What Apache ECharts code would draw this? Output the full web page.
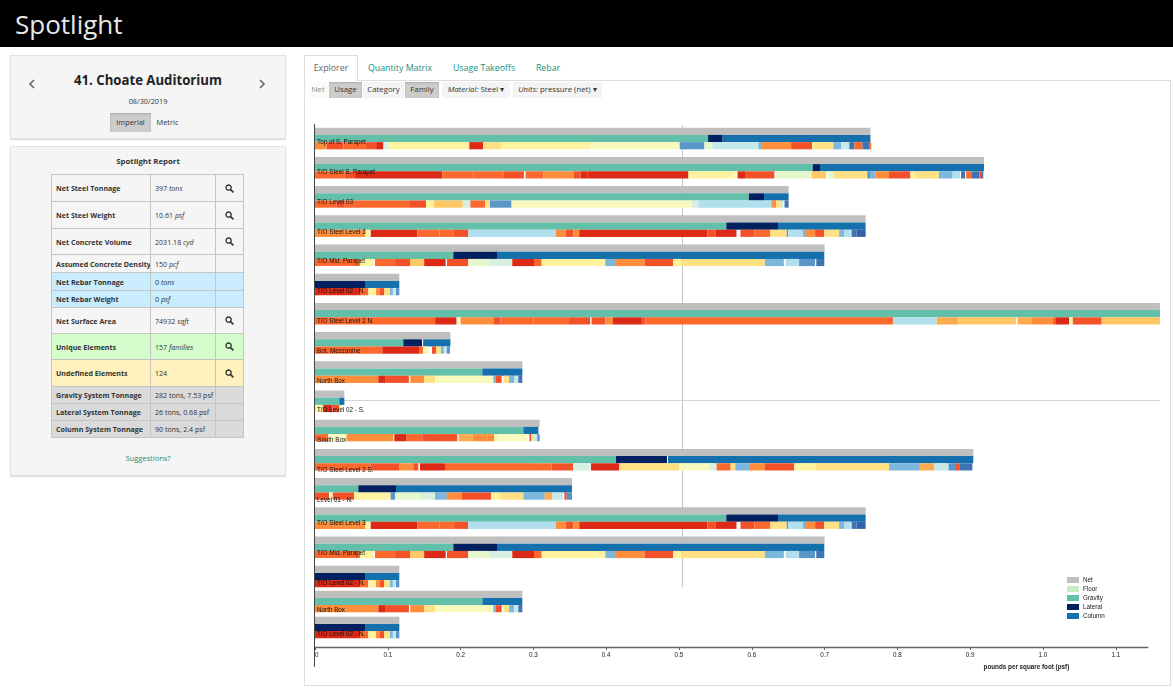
<!DOCTYPE html>
<html lang="en">
<head>
    <meta charset="UTF-8">
    <title>Spotlight</title>
    <script src="https://cdn.jsdelivr.net/npm/echarts@6/dist/echarts.min.js"></script>
    <style>
        html, body { margin: 0; padding: 0; width: 1173px; height: 700px; overflow: hidden; background: #fff; }
        body { position: relative; font-family: "Open Sans", sans-serif; color: #333; }
        .abs { position: absolute; box-sizing: border-box; }
        .top_bar { left: 0; top: 0; width: 1173px; height: 47px; background: #000; color: #e8e8e8; font-size: 26px; line-height: 48px; padding-left: 15px; }
        .well { background: #f5f5f5; border: 1px solid #e3e3e3; box-shadow: 0 1px 1px #ddd; }
        .center { text-align: center; }
        .btn { font-size: 7.4px; text-align: center; line-height: 19px; height: 19px; }
        .btn.on { background: #ccc; box-shadow: inset 0 1px 2px #aaa; }
        .report { left: 51px; top: 174px; width: 193px; border-collapse: collapse; font-size: 7.1px; table-layout: fixed; }
        .report td { border: 1.2px solid #c4c4c4; padding: 0 0 0 4px; white-space: nowrap; overflow: hidden; }
        .report td:first-child { font-weight: 700; font-size: 7.1px; }
        .report td:last-child { padding: 0; text-align: center; }
        .report svg { display: block; margin: auto; }
        .report i { font-style: italic; }
        .tab { top: 62px; font-size: 8.8px; color: #17907f; text-align: center; line-height: 13px; }
        .tool { top: 82px; height: 16px; line-height: 15px; font-size: 7.8px; text-align: center; background: #f4f4f4; }
        .tool.on { background: #ccc; box-shadow: inset 0 1px 2px #aaa; }
        #chart1 { position: absolute; left: 305px; top: 100px; width: 866px; height: 585px; }
    </style>
</head>
<body>
<div class="abs top_bar">Spotlight</div>

<div class="abs well" style="left:10px;top:55px;width:276px;height:84px;"></div>
<svg class="abs" style="left:28px;top:79px;" width="8" height="10"><path d="M6 1 L2 5 L6 9" fill="none" stroke="#666" stroke-width="1.6"/></svg>
<svg class="abs" style="left:258px;top:79px;" width="8" height="10"><path d="M2 1 L6 5 L2 9" fill="none" stroke="#666" stroke-width="1.6"/></svg>
<div class="abs center" style="left:10px;top:69px;width:276px;font-size:14.8px;font-weight:700;color:#222;transform:scaleX(0.89);">41. Choate Auditorium</div>
<div class="abs center" style="left:10px;top:96px;width:276px;font-size:7.3px;">08/30/2019</div>
<div class="abs btn on" style="left:110px;top:113px;width:41px;">Imperial</div>
<div class="abs btn" style="left:151px;top:113px;width:33px;">Metric</div>

<div class="abs well" style="left:10px;top:146px;width:276px;height:330px;"></div>
<div class="abs center" style="left:10px;top:156px;width:276px;font-size:7.8px;font-weight:700;">Spotlight Report</div>
<table class="abs report" id="report"><colgroup><col style="width:99px"><col style="width:65px"><col style="width:28px"></colgroup><tbody id="report_rows"></tbody></table>
<div class="abs center" style="left:10px;top:453px;width:276px;font-size:7.5px;color:#17907f;">Suggestions?</div>

<div class="abs" style="left:304px;top:80px;width:867px;height:606px;border:1px solid #ddd;"></div>
<div class="abs" style="left:304px;top:55px;width:54px;height:26px;background:#fff;border:1px solid #ddd;border-bottom:none;"></div>
<div class="abs tab" style="left:304px;width:54px;color:#666;">Explorer</div>
<div class="abs tab" style="left:362px;width:76px;">Quantity Matrix</div>
<div class="abs tab" style="left:448px;width:72px;">Usage Takeoffs</div>
<div class="abs tab" style="left:530px;width:36px;">Rebar</div>

<div class="abs tool" style="left:308px;width:20px;color:#888;background:#fafafa;">Net</div>
<div class="abs tool on" style="left:329px;width:33px;">Usage</div>
<div class="abs tool" style="left:363px;width:41px;">Category</div>
<div class="abs tool on" style="left:405px;width:34px;">Family</div>
<div class="abs tool" style="left:442px;width:68px;"><i>Material:</i> Steel &#9662;</div>
<div class="abs tool" style="left:513px;width:89px;"><i>Units:</i> pressure (net) &#9662;</div>

<div id="chart1"></div>

<script>
    var levelNames = ['Top of S. Parapet', 'T/O Steel S. Parapet', 'T/O Level 03', 'T/O Steel Level 3', 'T/O Mid. Parapet',
        'T/O Level 02 - N.', 'T/O Steel Level 2 N.', 'Bot. Mezzanine', 'North Box', 'T/O Level 02 - S.', 'South Box',
        'T/O Steel Level 2 S.', 'Level 01 - N.', 'T/O Steel Level 3', 'T/O Mid. Parapet', 'T/O Level 02 - N.', 'North Box', 'T/O Level 02 - N.'];

    var xMax = 1.144;

    var netValues = [0.763, 0.919, 0.6506, 0.7564, 0.7, 0.1158, 1.1607, 0.186, 0.2848, 0.0403, 0.3086, 0.9043, 0.353, 0.7564, 0.7, 0.1158, 0.2848, 0.1158];
    var floorValues = [0, 0, 0, 0, 0, 0, 0, 0, 0, 0, 0, 0, 0, 0, 0, 0, 0, 0];
    var gravityValues = [0.54, 0.6836, 0.596, 0.565, 0.19, 0, 1.1607, 0.1213, 0.2299, 0.0334, 0.2862, 0.4135, 0.0595, 0.565, 0.19, 0, 0.2299, 0];
    var lateralValues = [0.02, 0.0101, 0.0208, 0.071, 0.061, 0.0687, 0, 0.0257, 0, 0, 0, 0.07, 0.0518, 0.071, 0.061, 0.0687, 0, 0.0687];
    var systemGapValues = [0, 0, 0, 0, 0, 0, 0, 0.0015, 0, 0, 0, 0.0015, 0, 0, 0, 0, 0, 0];
    var columnValues = [0.203, 0.2253, 0.0338, 0.1204, 0.4486, 0.0471, 0, 0.0375, 0.0549, 0.0069, 0.0206, 0.4193, 0.2417, 0.1204, 0.4486, 0.0471, 0.0549, 0.0471];

    // family rows: where each family ends on the axis, and which shade group it is in (0 = blank)
    var topOfSParapetEnds = [0.016, 0.039, 0.069, 0.084, 0.094, 0.101, 0.212, 0.231, 0.256, 0.378, 0.501, 0.535, 0.546, 0.609, 0.614, 0.654, 0.683, 0.685, 0.712, 0.723, 0.734, 0.741, 0.752, 0.762, 0.764];
    var topOfSParapetKinds = [4, 2, 3, 2, 1, 11, 8, 1, 7, 8, 9, 15, 10, 12, 14, 4, 2, 8, 7, 14, 12, 16, 3, 16, 3];
    var steelSParapetEnds = [0.041, 0.055, 0.175, 0.2175, 0.2587, 0.287, 0.2893, 0.3136, 0.355, 0.365, 0.374, 0.513, 0.574, 0.5806, 0.5907, 0.631, 0.6323, 0.682, 0.702, 0.704, 0.712, 0.7587, 0.7633, 0.77, 0.7885, 0.818, 0.824, 0.857, 0.876, 0.886, 0.8875, 0.893, 0.8945, 0.9025, 0.9125, 0.915, 0.918];
    var steelSParapetKinds = [3, 2, 1, 3, 3, 2, 0, 3, 4, 2, 1, 1, 8, 9, 1, 2, 0, 10, 6, 0, 10, 7, 15, 14, 4, 2, 8, 7, 14, 13, 0, 16, 0, 3, 16, 2, 16];
    var level03Ends = [0.03, 0.041, 0.1305, 0.1525, 0.1635, 0.203, 0.2134, 0.234, 0.2404, 0.27, 0.5174, 0.5266, 0.627, 0.6314, 0.633, 0.64, 0.6433, 0.645, 0.6506];
    var level03Kinds = [3, 2, 3, 2, 8, 6, 11, 3, 7, 15, 9, 11, 13, 4, 2, 7, 12, 0, 16];
    var steelLevel3Ends = [0.0687, 0.0746, 0.0765, 0.1406, 0.1708, 0.19, 0.2106, 0.331, 0.3443, 0.355, 0.363, 0.539, 0.55, 0.579, 0.5845, 0.6035, 0.6255, 0.648, 0.65, 0.6703, 0.6745, 0.687, 0.6996, 0.72, 0.727, 0.7358, 0.737, 0.744, 0.7564];
    var steelLevel3Kinds = [4, 8, 0, 1, 3, 3, 2, 13, 4, 2, 4, 1, 2, 1, 0, 2, 3, 7, 15, 13, 14, 4, 2, 7, 14, 13, 0, 16, 17];
    var midParapetEnds = [0.0618, 0.081, 0.0824, 0.11, 0.1305, 0.15, 0.1795, 0.1813, 0.2106, 0.2404, 0.271, 0.3008, 0.3114, 0.3988, 0.412, 0.4528, 0.492, 0.5027, 0.618, 0.644, 0.6465, 0.665, 0.687, 0.6886, 0.6996];
    var midParapetKinds = [3, 8, 0, 3, 2, 6, 1, 0, 2, 10, 11, 1, 3, 8, 14, 4, 2, 8, 7, 14, 0, 13, 15, 0, 16];
    var level02NEnds = [0.0618, 0.0733, 0.0838, 0.0893, 0.0948, 0.103, 0.107, 0.1113, 0.1158];
    var level02NKinds = [1, 3, 8, 4, 2, 7, 14, 12, 15];
    var steelLevel2NEnds = [0.165, 0.1946, 0.2, 0.245, 0.255, 0.3, 0.349, 0.378, 0.38, 0.399, 0.4093, 0.449, 0.454, 0.794, 0.854, 0.8837, 0.963, 0.965, 0.9844, 1.014, 1.017, 1.036, 1.041, 1.0806, 1.1607];
    var steelLevel2NKinds = [3, 1, 9, 4, 2, 3, 3, 2, 0, 2, 4, 1, 2, 3, 13, 5, 6, 0, 5, 4, 2, 1, 9, 2, 6];
    var botMezzanineEnds = [0.0925, 0.1429, 0.1484, 0.158, 0.1607, 0.1662, 0.173, 0.177, 0.181, 0.1854];
    var botMezzanineKinds = [3, 1, 3, 9, 0, 2, 7, 14, 12, 15];
    var northBoxEnds = [0.087, 0.0962, 0.125, 0.129, 0.131, 0.15, 0.1648, 0.245, 0.248, 0.2564, 0.2587, 0.2665, 0.2738, 0.2793, 0.2848];
    var northBoxKinds = [4, 1, 2, 2, 0, 4, 7, 9, 14, 2, 0, 7, 14, 12, 16];
    var level02SEnds = [0.0114, 0.0238, 0.0334, 0.0357];
    var level02SKinds = [8, 1, 2, 8];
    var southBoxEnds = [0.0183, 0.0435, 0.1076, 0.109, 0.1259, 0.1474, 0.1662, 0.1955, 0.1973, 0.2166, 0.2367, 0.2463, 0.2518, 0.2921, 0.2945, 0.2967, 0.3013, 0.3054, 0.3086];
    var southBoxKinds = [3, 9, 4, 0, 1, 3, 2, 2, 0, 5, 4, 4, 8, 9, 0, 2, 7, 12, 15];
    var steelLevel2SEnds = [0.0765, 0.1154, 0.135, 0.142, 0.1442, 0.1786, 0.2953, 0.325, 0.3544, 0.3777, 0.379, 0.418, 0.5005, 0.5412, 0.5517, 0.571, 0.5774, 0.5975, 0.618, 0.6584, 0.6877, 0.7885, 0.8297, 0.8507, 0.8704, 0.8805, 0.885, 0.903];
    var steelLevel2SKinds = [3, 2, 4, 2, 0, 1, 3, 3, 2, 11, 0, 1, 7, 9, 11, 3, 7, 14, 4, 2, 8, 7, 14, 5, 12, 15, 2, 16];
    var level01NEnds = [0.0192, 0.0243, 0.0536, 0.1039, 0.11, 0.1456, 0.1648, 0.1809, 0.2019, 0.2418, 0.2541, 0.2862, 0.3155, 0.326, 0.3407, 0.3425, 0.3457, 0.353];
    var level01NKinds = [2, 9, 2, 8, 15, 10, 11, 14, 4, 2, 8, 7, 14, 5, 12, 0, 2, 15];

    var reportLabels = ['Net Steel Tonnage', 'Net Steel Weight', 'Net Concrete Volume', 'Assumed Concrete Density', 'Net Rebar Tonnage', 'Net Rebar Weight',
        'Net Surface Area', 'Unique Elements', 'Undefined Elements', 'Gravity System Tonnage', 'Lateral System Tonnage', 'Column System Tonnage'];
    var reportValues = ['397 <i>tons</i>', '10.61 <i>psf</i>', '2031.18 <i>cyd</i>', '150 <i>pcf</i>', '0 <i>tons</i>', '0 <i>psf</i>',
        '74932 <i>sqft</i>', '157 <i>families</i>', '124', '282 tons, 7.53 psf', '26 tons, 0.68 psf', '90 tons, 2.4 psf'];

    // layout and colours
    var reportHeights = [27, 27, 26, 18, 18, 17, 26, 26, 27, 17, 17, 17];
    var reportColors = ['#f5f5f5', '#f5f5f5', '#f5f5f5', '#f5f5f5', '#c9ecff', '#c9ecff', '#f5f5f5', '#d5fdcc', '#fff1bd', '#dadada', '#dadada', '#dadada'];
    var reportSearch = [1, 1, 1, 0, 0, 0, 1, 1, 1, 0, 0, 0];
    var labelDrops = [11.4, 11.7, 12.2, 13, 13.1, 13.8, 14.8, 15.8, 16.1, 16.4, 17.4, 17.7, 18.1, 12.1, 13.4, 14.1, 16.4, 13.7];
    var familyRamp = ['rgba(0,0,0,0)', '#dd2a16', '#f3512a', '#fc682d', '#fe8d3c', '#feaa4e', '#fec864', '#ffe184', '#fff3a0', '#f7fabc', '#e6f7cb',
        '#d8f0e0', '#c5e9e9', '#b2dfee', '#7cb7dd', '#5a95c9', '#3f74b4', '#3360a8'];

    var familyEnds = [topOfSParapetEnds, steelSParapetEnds, level03Ends, steelLevel3Ends, midParapetEnds, level02NEnds, steelLevel2NEnds, botMezzanineEnds,
        northBoxEnds, level02SEnds, southBoxEnds, steelLevel2SEnds, level01NEnds, steelLevel3Ends, midParapetEnds, level02NEnds, northBoxEnds, level02NEnds];
    var familyKinds = [topOfSParapetKinds, steelSParapetKinds, level03Kinds, steelLevel3Kinds, midParapetKinds, level02NKinds, steelLevel2NKinds, botMezzanineKinds,
        northBoxKinds, level02SKinds, southBoxKinds, steelLevel2SKinds, level01NKinds, steelLevel3Kinds, midParapetKinds, level02NKinds, northBoxKinds, level02NKinds];

    var searchIcon = '<svg width="9" height="9" viewBox="0 0 9 9"><circle cx="3.6" cy="3.6" r="2.6" fill="none" stroke="#333" stroke-width="1.3"/><path d="M5.6 5.6 L8.4 8.4" stroke="#333" stroke-width="1.6"/></svg>';
    var tableHtml = '';
    reportLabels.forEach(function (label, i) {
        tableHtml += '<tr style="height:' + reportHeights[i] + 'px;background:' + reportColors[i] + '">' +
            '<td>' + label + '</td><td>' + reportValues[i] + '</td><td>' + (reportSearch[i] ? searchIcon : '') + '</td></tr>';
    });
    document.getElementById('report_rows').innerHTML = tableHtml;

    var barThick = 7.2;

    function plainBar(name, stack, gridIndex, color, data) {
        return {
            name: name, type: 'bar', stack: stack + gridIndex, xAxisIndex: gridIndex, yAxisIndex: gridIndex, barWidth: barThick, barGap: 0,
            clip: false, silent: true, itemStyle: { color: color }, data: data
        };
    }

    // one grid per row spacing, rows from..to-1
    function seriesFor(gridIndex, from, to) {
        var rows = [];
        for (var r = from; r < to; r++) rows.push(r);
        var list = [];
        list.push(plainBar('Net', 'net', gridIndex, '#bfbfbf', rows.map(function (r) {
            return {
                value: netValues[r],
                label: {
                    show: true, position: 'insideLeft', distance: 1, offset: [1, labelDrops[r]], formatter: levelNames[r],
                    fontFamily: 'Liberation Sans', fontSize: 6.3, color: '#111'
                }
            };
        })));
        list.push(plainBar('Floor', 'system', gridIndex, '#c7edc2', rows.map(function (r) { return floorValues[r]; })));
        list.push(plainBar('Gravity', 'system', gridIndex, '#62bfa9', rows.map(function (r) { return gravityValues[r]; })));
        list.push(plainBar('Lateral', 'system', gridIndex, '#00205f', rows.map(function (r) { return lateralValues[r]; })));
        list.push(plainBar('gap', 'system', gridIndex, 'rgba(0,0,0,0)', rows.map(function (r) { return systemGapValues[r]; })));
        list.push(plainBar('Column', 'system', gridIndex, '#1471ae', rows.map(function (r) { return columnValues[r]; })));

        var most = 0;
        rows.forEach(function (r) { most = Math.max(most, familyEnds[r].length); });
        for (var k = 0; k < most; k++) {
            (function (k) {
                list.push(plainBar('family' + k, 'family', gridIndex, '#ccc', rows.map(function (r) {
                    var ends = familyEnds[r];
                    if (k >= ends.length) return { value: 0, itemStyle: { color: 'rgba(0,0,0,0)' } };
                    return {
                        value: ends[k] - (k ? ends[k - 1] : 0),
                        itemStyle: { color: familyRamp[familyKinds[r][k]] }
                    };
                })));
            })(k);
        }
        return list;
    }

    var ctx1 = echarts.init(document.getElementById('chart1'));

    ctx1.setOption({
        animation: false,
        textStyle: { fontFamily: 'Liberation Sans' },
        grid: [
            { left: 10, width: 832.8, top: 23.9, height: 467.2 },
            { left: 10, width: 832.8, top: 488.5, height: 52 }
        ],
        xAxis: [
            { gridIndex: 0, type: 'value', min: 0, max: xMax, show: false },
            {
                gridIndex: 1, type: 'value', min: 0, max: xMax, interval: 0.1, offset: 6.5,
                axisLine: { show: true, lineStyle: { color: '#666', width: 1.4 } },
                axisTick: { show: true, length: 3, lineStyle: { color: '#666' } },
                splitLine: { show: false },
                axisLabel: {
                    fontSize: 6.3, color: '#222', margin: 5, showMaxLabel: false, alignMinLabel: 'left',
                    formatter: function (v) { return v === 0 ? '0' : v.toFixed(1); }
                },
                name: 'pounds per square foot (psf)', nameLocation: 'middle', nameGap: 17,
                nameTextStyle: { fontSize: 6.3, fontWeight: 'bold', color: '#222', padding: [0, 0, 0, 590] }
            }
        ],
        yAxis: [
            { gridIndex: 0, type: 'category', inverse: true, show: false, data: levelNames.slice(0, 16) },
            { gridIndex: 1, type: 'category', inverse: true, show: false, data: levelNames.slice(16, 18) }
        ],
        legend: {
            left: 757, top: 472, orient: 'vertical', icon: 'rect', itemWidth: 12, itemHeight: 6, itemGap: 3, itemStyle: { borderWidth: 0 },
            textStyle: { fontSize: 6.3, color: '#222', padding: [0, 0, 0, -1] }, selectedMode: false,
            data: ['Net', 'Floor', 'Gravity', 'Lateral', 'Column']
        },
        graphic: [
            { type: 'line', silent: true, z: 0, shape: { x1: 377.5, y1: 25, x2: 377.5, y2: 487 }, style: { stroke: '#c4c4c4', lineWidth: 1 } },
            { type: 'line', silent: true, z: 0, shape: { x1: 10, y1: 300.5, x2: 855, y2: 300.5 }, style: { stroke: '#d4d4d4', lineWidth: 1 } },
            { type: 'line', silent: true, z: 10, shape: { x1: 9.5, y1: 24, x2: 9.5, y2: 567 }, style: { stroke: '#444', lineWidth: 1 } }
        ],
        series: seriesFor(0, 0, 16).concat(seriesFor(1, 16, 18))
    });
</script>
</body>
</html>
